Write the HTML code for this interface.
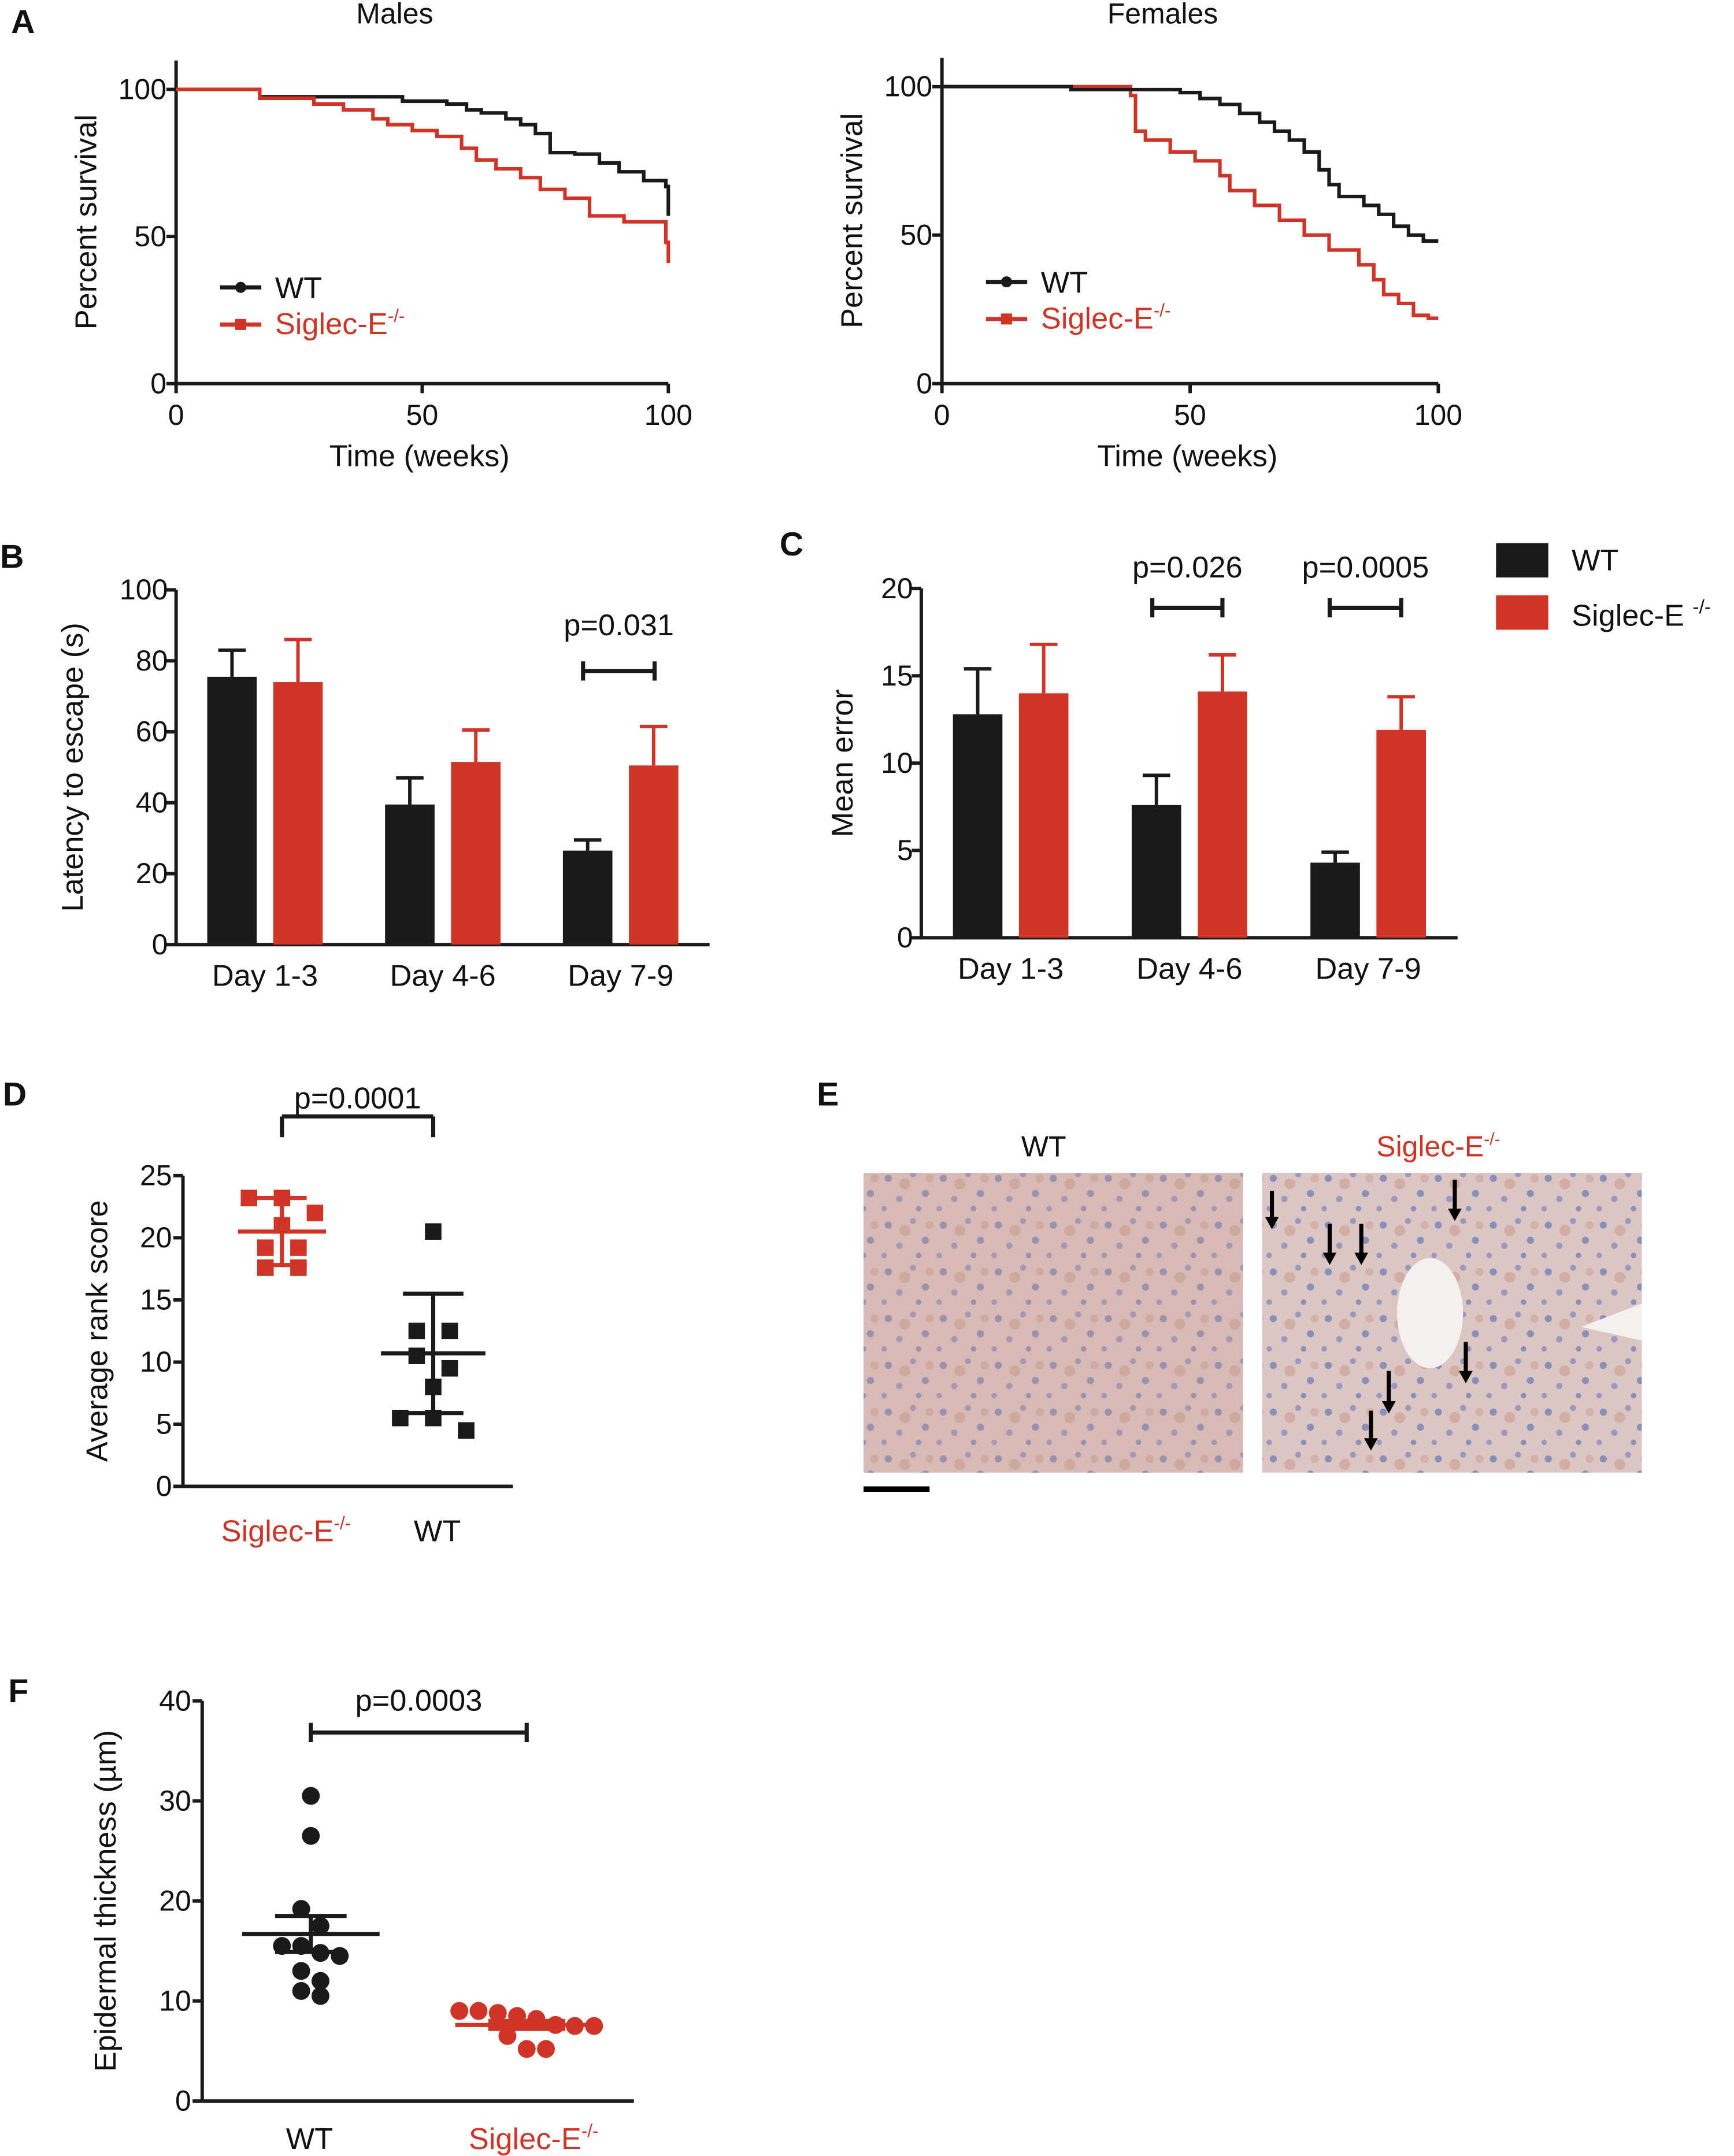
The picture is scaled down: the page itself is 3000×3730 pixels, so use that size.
<!DOCTYPE html>
<html><head><meta charset="utf-8">
<style>
html,body{margin:0;padding:0;background:#fff;}
svg{display:block;font-family:"Liberation Sans",Arial,sans-serif;}
</style></head>
<body>
<svg id="fig" xmlns="http://www.w3.org/2000/svg" width="3000" height="3730" viewBox="0 0 1261 1568">
<defs>
<pattern id="tissue" width="40" height="34" patternUnits="userSpaceOnUse">
<rect width="40" height="34" fill="#dcc6c4"/>
<circle cx="6" cy="7" r="2.6" fill="#8a8fb8"/><circle cx="24" cy="4" r="2.2" fill="#9a98bf"/>
<circle cx="33" cy="18" r="2.6" fill="#8a8fb8"/><circle cx="14" cy="22" r="2.3" fill="#9a98bf"/>
<circle cx="28" cy="29" r="2" fill="#8a8fb8"/><circle cx="3" cy="29" r="2" fill="#9a98bf"/>
<circle cx="18" cy="11" r="4" fill="#c99c8e" opacity="0.6"/><circle cx="36" cy="7" r="3" fill="#c99c8e" opacity="0.5"/>
</pattern>
</defs>
<g id="root"></g>
</svg>
<script>
// ---------- DATA ----------
const maleWT_t = [0,17,46,55,59,62,67,70,73,76,81,86,90,95,99.5,100];
const maleWT_s = [100,97.5,96,95,93,92,90,88,85,78.5,78,75,72,69,67,57];
const maleKO_t = [0,17,28,34,40,43,48,53,58,61,65,70,74,79,84,91,99.5,100];
const maleKO_s = [100,97,95,93,90,88,86,84,80,76,73,70,66,63,57,55,48,41];
const femWT_t = [0,26,48,52,56,60,64,67,70,73,76,78,80,85,88,91,94,97,100];
const femWT_s = [100,99,98,96,94,91,88,85,82,78,72,67,63,60,57,53,50,48,48];
const femKO_t = [0,38,39,41,46,51,56,58,63,68,73,78,84,87,89,92,95,98,100];
const femKO_s = [100,97,85,82,78,75,70,65,60,55,50,45,40,35,30,27,23,22,22];

const bCats = ["Day 1-3","Day 4-6","Day 7-9"];
const bWT = [75.5,39.5,26.5];
const bWTerr = [7.5,7.5,3];
const bKO = [74,51.5,50.5];
const bKOerr = [12,9,11];
const bTicks = [0,20,40,60,80,100];

const cCats = ["Day 1-3","Day 4-6","Day 7-9"];
const cWT = [12.8,7.6,4.3];
const cWTerr = [2.6,1.7,0.6];
const cKO = [14.0,14.1,11.9];
const cKOerr = [2.8,2.1,1.9];
const cTicks = [0,5,10,15,20];

const dKO = [23.2,23.2,22,21,19.2,19.2,17.6,17.6];
const dKOmean = 20.5, dKOsd = 2.7;
const dWT = [20.5,12.5,12.5,10.5,9.5,8,5.5,5.5,4.5];
const dWTmean = 10.7, dWTsd = 4.8;
const dTicks = [0,5,10,15,20,25];

const fWT = [30.5,26.5,19.2,17.5,15.5,15.5,14.8,14.5,13,12,11,10.5];
const fWTmean = 16.7, fWTse = 1.8;
const fKO = [9,9,8.8,8.5,8.2,7.6,7.5,7.5,6.5,5.2,5.2];
const fKOmean = 7.6, fKOse = 0.4;
const fTicks = [0,10,20,30,40];

// ---------- HELPERS ----------
const NS="http://www.w3.org/2000/svg";
const root=document.getElementById('root');
const RED="#d03427", BLK="#1a1a1a";
function mk(tag,attrs,parent){const e=document.createElementNS(NS,tag);for(const k in attrs)e.setAttribute(k,attrs[k]);(parent||root).appendChild(e);return e;}
function txt(s,x,y,size,opts,parent){opts=opts||{};
 const e=mk('text',{x:x,y:y,'font-size':size,fill:opts.fill||'#111','text-anchor':opts.anchor||'middle','font-weight':opts.bold?'bold':'normal'},parent);
 if(opts.rot)e.setAttribute('transform','rotate(-90 '+x+' '+y+')');
 e.textContent=s;return e;}
function sup(label,x,y,size,fill,anchor,parent){
 const e=mk('text',{x:x,y:y,'font-size':size,fill:fill,'text-anchor':anchor||'middle'},parent);
 e.appendChild(document.createTextNode(label));
 const t=document.createElementNS(NS,'tspan');t.setAttribute('font-size',size*0.6);t.setAttribute('dy',-size*0.4);t.textContent='-/-';e.appendChild(t);return e;}
function line(x1,y1,x2,y2,w,c,parent){return mk('line',{x1:x1,y1:y1,x2:x2,y2:y2,stroke:c||BLK,'stroke-width':w||2.5},parent);}
function lin(d0,d1,r0,r1){return function(v){return r0+(v-d0)*(r1-r0)/(d1-d0);};}
function letter(s,x,y){const e=txt(s,x,y,24,{bold:true,anchor:'start'});
 
 }
function bracket(label,xa,xb,y,ty,parent,tall){
 line(xa,y,xb,y,3,BLK,parent);
 line(xa,y-(tall?0:7),xa,y+(tall?15:7),3,BLK,parent);
 line(xb,y-(tall?0:7),xb,y+(tall?15:7),3,BLK,parent);
 const t=txt(label,(xa+xb)/2,ty,22,{},parent);
 
 }

// ---------- SURVIVAL ----------
function survival(name,title,x0,x1,yTop,y0,y100,sets,off){
 const g=mk('g',{});
 
 
 const X=lin(0,100,x0,x1), Y=lin(0,100,y0,y100);
 const tt=txt(title,(x0+x1)/2-20,17,21,{},g);
 
 line(x0,yTop,x0,y0,2.5,BLK,g); line(x0,y0,x1,y0,2.5,BLK,g);
 [0,50,100].forEach(function(v){
  line(x0-7,Y(v),x0,Y(v),2.5,BLK,g);
  const t=txt(String(v),x0-7,Y(v)+7,21,{anchor:'end'},g);
  
  line(X(v),y0,X(v),y0+7,2.5,BLK,g);
  const t2=txt(String(v),X(v),y0+30,21,{},g);
  });
 const xl=txt('Time (weeks)',(x0+x1)/2-2,y0+60,22,{},g);
 
 const yl=txt('Percent survival',x0-58,(yTop+y0)/2,22,{rot:true},g);
 
 sets.forEach(function(s){
  let d='M'+X(s.t[0])+' '+Y(s.s[0]);
  for(let i=1;i<s.t.length;i++){d+=' H'+X(s.t[i])+' V'+Y(s.s[i]);}
  const p=mk('path',{d:d,fill:'none',stroke:s.c,'stroke-width':2.6},g);
  
  });
 const lx=x0+32, wy=209+off, ly=236+off;
 line(lx,wy,lx+30,wy,3,BLK,g);mk('circle',{cx:lx+15,cy:wy,r:4,fill:BLK},g);
 const l1=txt('WT',lx+40,wy+8,22,{anchor:'start'},g);
 
 line(lx,ly,lx+30,ly,3,RED,g);mk('rect',{x:lx+11,y:ly-4,width:8,height:8,fill:RED},g);
 const l2=sup('Siglec-E',lx+40,ly+7,22,RED,'start',g);
 
}

// ---------- BARS ----------
function bars(name,x0,x1,y0,yMax,vMax,ticks,cats,wt,wtE,ko,koE,ytitle,ytx){
 const g=mk('g',{});
 
 
 const Y=lin(0,vMax,y0,yMax);
 const gw=(x1-x0)/cats.length;
 line(x0,Y(vMax),x0,y0,2.5,BLK,g); line(x0,y0,x1,y0,2.5,BLK,g);
 ticks.forEach(function(v){line(x0-7,Y(v),x0,Y(v),2.5,BLK,g);
  const t=txt(String(v),x0-6,Y(v)+7,21,{anchor:'end'},g);
  });
 const yl=txt(ytitle,ytx,(Y(vMax)+y0)/2,22,{rot:true},g);
 
 cats.forEach(function(c,i){
  const cx=x0+(i+0.5)*gw;
  const t=txt(c,cx,y0+30,22,{},g);
  
  [[wt[i],wtE[i],cx-24,BLK,'bar-wt-'],[ko[i],koE[i],cx+24,RED,'bar-siglec-e-']].forEach(function(b){
   line(b[2],Y(b[0]),b[2],Y(b[0]+b[1]),2.5,b[3],g);
   line(b[2]-10,Y(b[0]+b[1]),b[2]+10,Y(b[0]+b[1]),2.5,b[3],g);
   const r=mk('rect',{x:b[2]-18,y:Y(b[0]),width:36,height:y0-Y(b[0]),fill:b[3]},g);
   
   });
 });
 return {g:g,Y:Y};
}

// ---------- SCATTER ----------
function jitter(vals,Y,diam,spread){
 const idx=vals.map(function(v,i){return i;}).sort(function(a,b){return vals[b]-vals[a];});
 const offs=new Array(vals.length).fill(0);
 let cluster=[];
 function flush(){const n=cluster.length;cluster.forEach(function(k,j){offs[k]=(j-(n-1)/2)*spread;});cluster=[];}
 idx.forEach(function(i){
  if(cluster.length&&Math.abs(Y(vals[i])-Y(vals[cluster[0]]))>=diam)flush();
  cluster.push(i);});
 flush();
 return offs;}
function scatter(g,Y,cx,vals,mean,err,col,shape,name,half,cap){
 const offs=jitter(vals,Y,13,shape==='sq'?24:14);
 vals.forEach(function(v,i){
  let e;
  if(shape==='sq')e=mk('rect',{x:cx+offs[i]-6,y:Y(v)-6,width:12,height:12,fill:col},g);
  else e=mk('circle',{cx:cx+offs[i],cy:Y(v),r:6.5,fill:col},g);
  
  });
 const m=line(cx-half,Y(mean),cx+half,Y(mean),3,col,g);
 
 line(cx,Y(mean-err),cx,Y(mean+err),3,col,g);
 line(cx-cap,Y(mean+err),cx+cap,Y(mean+err),3,col,g);
 line(cx-cap,Y(mean-err),cx+cap,Y(mean-err),3,col,g);
}
function scatterAxes(name,x0,x1,y0,yMax,vMax,ticks,ytitle,ytx){
 const g=mk('g',{});
 
 
 const Y=lin(0,vMax,y0,yMax);
 line(x0,Y(vMax),x0,y0,2.5,BLK,g); line(x0,y0,x1,y0,2.5,BLK,g);
 ticks.forEach(function(v){line(x0-7,Y(v),x0,Y(v),2.5,BLK,g);
  const t=txt(String(v),x0-8,Y(v)+7,21,{anchor:'end'},g);
  });
 const yl=txt(ytitle,ytx,(Y(vMax)+y0)/2,22,{rot:true},g);
 
 return {g:g,Y:Y};
}

// ---------- BUILD ----------
letter('A',8,24);
survival('panel-a-males','Males',128,486,44,279,65,[
 {t:maleWT_t,s:maleWT_s,c:BLK,n:'line-males-wt'},
 {t:maleKO_t,s:maleKO_s,c:RED,n:'line-males-siglec-e'}],0);
survival('panel-a-females','Females',685,1046,42,279,63,[
 {t:femKO_t,s:femKO_s,c:RED,n:'line-females-siglec-e'},
 {t:femWT_t,s:femWT_s,c:BLK,n:'line-females-wt'}],-4);

letter('B',0,413);
const B=bars('panel-b-latency',128,516,687,429,100,bTicks,bCats,bWT,bWTerr,bKO,bKOerr,'Latency to escape (s)',60);
bracket('p=0.031',424,476,488,462,B.g,false);

letter('C',567,404);
const C=bars('panel-c-mean-error',670,1060,682,428,20,cTicks,cCats,cWT,cWTerr,cKO,cKOerr,'Mean error',620);
bracket('p=0.026',838,889,442,420,C.g,false);
bracket('p=0.0005',967,1019,442,420,C.g,false);
(function(){
 const g=mk('g',{});
 
 
 mk('rect',{x:1088,y:395,width:38,height:25,fill:BLK},g);
 const a=txt('WT',1143,415,22,{anchor:'start'},g);
 
 mk('rect',{x:1088,y:433,width:38,height:25,fill:RED},g);
 const b=mk('text',{x:1143,y:455,'font-size':22,fill:'#111'},g);
 b.textContent='Siglec-E ';
 const sp=document.createElementNS(NS,'tspan');sp.setAttribute('font-size',14);sp.setAttribute('dy',-9);sp.textContent='-/-';b.appendChild(sp);
 
})();

letter('D',2,804);
const D=scatterAxes('panel-d-rank-score',133,373,1081,855,25,dTicks,'Average rank score',78);
scatter(D.g,D.Y,205,dKO,dKOmean,dKOsd,RED,'sq','siglec-e',32,18);
scatter(D.g,D.Y,315,dWT,dWTmean,dWTsd,BLK,'sq','wt',38,22);
bracket('p=0.0001',205,315,812,806,D.g,true);
(function(){const a=sup('Siglec-E',208,1121,22,RED,'middle',D.g);
 const b=txt('WT',318,1121,22,{},D.g);})();

letter('E',594,804);
(function(){
 const g=mk('g',{});
 
 
 const t1=txt('WT',759,841,21,{},g);
 const t2=sup('Siglec-E',1046,841,21,RED,'middle',g);
 const i1=mk('rect',{x:628,y:853,width:276,height:218,fill:'url(#tissue)'},g);
 
 mk('rect',{x:628,y:853,width:276,height:218,fill:'#c8988a',opacity:0.25},g);
 const i2=mk('rect',{x:918,y:853,width:276,height:218,fill:'url(#tissue)'},g);
 
 mk('ellipse',{cx:1040,cy:955,rx:24,ry:40,fill:'#f4f0ef'},g);
 mk('path',{d:'M1150 965 L1194 948 L1194 975 Z',fill:'#f4f0ef'},g);
 const arrows=[[925,866,894],[967,890,920],[990,890,920],[1058,858,888],[1066,976,1006],[1010,997,1028],[997,1026,1055]];
 arrows.forEach(function(a){line(a[0],a[1],a[0],a[2]-6,3,'#000',g);
  mk('path',{d:'M'+(a[0]-5)+' '+(a[2]-9)+' L'+(a[0]+5)+' '+(a[2]-9)+' L'+a[0]+' '+a[2]+' Z',fill:'#000'},g);});
 const sb=line(628,1083,676,1083,4,'#000',g);
})();

letter('F',6,1238);
const F=scatterAxes('panel-f-epidermal',147,461,1528,1237,40,fTicks,'Epidermal thickness (\u00b5m)',84);
scatter(F.g,F.Y,226,fWT,fWTmean,fWTse,BLK,'c','wt',50,26);
scatter(F.g,F.Y,383,fKO,fKOmean,fKOse,RED,'c','siglec-e',52,28);
bracket('p=0.0003',226,383,1260,1244,F.g,false);
(function(){const b=txt('WT',225,1563,22,{},F.g);
 const a=sup('Siglec-E',388,1563,22,RED,'middle',F.g);})();
</script>
</body></html>
